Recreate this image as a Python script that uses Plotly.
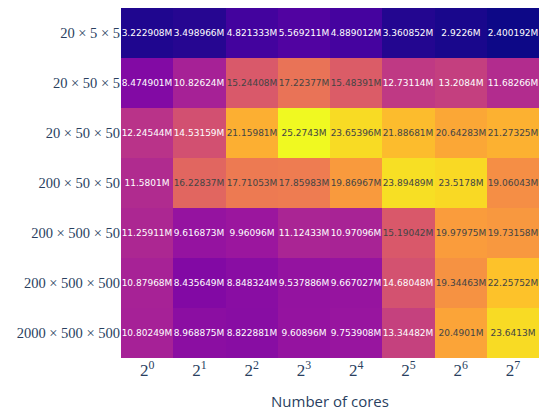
import plotly.graph_objects as go

x_labels = ["2<sup>0</sup>", "2<sup>1</sup>", "2<sup>2</sup>", "2<sup>3</sup>",
            "2<sup>4</sup>", "2<sup>5</sup>", "2<sup>6</sup>", "2<sup>7</sup>"]
y_labels = ["20 × 5 × 5", "20 × 50 × 5", "20 × 50 × 50", "200 × 50 × 50",
            "200 × 500 × 50", "200 × 500 × 500", "2000 × 500 × 500"]

row_20_5_5 = [3222908, 3498966, 4821333, 5569211, 4889012, 3360852, 2922600, 2400192]
row_20_50_5 = [8474901, 10826240, 15244080, 17223770, 15483910, 12731140, 13208400, 11682660]
row_20_50_50 = [12245440, 14531590, 21159810, 25274300, 23653960, 21886810, 20642830, 21273250]
row_200_50_50 = [11580100, 16228370, 17710530, 17859830, 19869670, 23894890, 23517800, 19060430]
row_200_500_50 = [11259110, 9616873, 9960960, 11124330, 10970960, 15190420, 19979750, 19731580]
row_200_500_500 = [10879680, 8435649, 8848324, 9537886, 9667027, 14680480, 19344630, 22257520]
row_2000_500_500 = [10802490, 8968875, 8822881, 9608960, 9753908, 13344820, 20490100, 23641300]

z = [row_20_5_5, row_20_50_5, row_20_50_50, row_200_50_50,
     row_200_500_50, row_200_500_500, row_2000_500_500]

fig = go.Figure(go.Heatmap(
    z=z, x=x_labels, y=y_labels,
    colorscale="Plasma", showscale=False,
    texttemplate="%{z:.7~s}", textfont=dict(size=9, family="DejaVu Sans"),
    xgap=0, ygap=0,
))

fig.update_layout(
    width=547, height=412,
    margin=dict(l=113, r=16, t=0, b=62),
    paper_bgcolor="white", plot_bgcolor="white",
    font=dict(family="Open Sans", color="#2a3f5f"),
)
fig.update_xaxes(title=dict(text="Number of cores", font=dict(size=15), standoff=17),
                 tickfont=dict(family="Liberation Serif", size=17), showgrid=False,
                 ticks="", zeroline=False, automargin=False)
fig.update_yaxes(autorange="reversed", tickfont=dict(family="Liberation Serif", size=14.5),
                 showgrid=False, ticks="", zeroline=False, automargin=False)

fig.write_html("out.html")
